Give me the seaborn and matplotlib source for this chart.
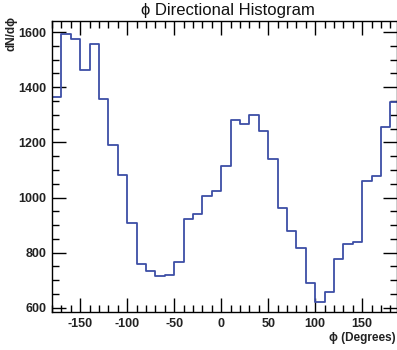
import numpy as np
import pandas as pd
import matplotlib
matplotlib.use("Agg")
import matplotlib.pyplot as plt
import seaborn as sns
from matplotlib.ticker import MultipleLocator

# ---- data ----
bin_edges = list(range(-180, 191, 10))
bin_counts = [1366, 1594, 1576, 1462, 1558, 1358, 1192, 1080, 909, 759,
              735, 717, 720, 768, 921, 940, 1006, 1023, 1116, 1282,
              1267, 1300, 1240, 1138, 962, 880, 816, 690, 621, 657,
              776, 831, 840, 1059, 1077, 1257, 1348]
bin_centers = [e + 5 for e in bin_edges[:-1]]
x_ticks = [-150, -100, -50, 0, 50, 100, 150]
y_ticks = [600, 800, 1000, 1200, 1400, 1600]

df = pd.DataFrame({"phi": bin_centers, "count": bin_counts})

sns.set_theme(style="white")
plt.rcParams['font.family'] = ['Liberation Sans', 'DejaVu Sans']
plt.rcParams['axes.unicode_minus'] = False

fig = plt.figure(figsize=(3.97, 3.5), dpi=100)
ax = fig.add_axes([52 / 397, 38 / 350, 345 / 397, 291 / 350])

sns.histplot(data=df, x="phi", weights="count", bins=bin_edges,
             element="step", fill=False, color="#3d4ea6", linewidth=1.3, ax=ax)

ax.set_xlim(-180, 187)
ax.set_ylim(585, 1640)
ax.set_xticks(x_ticks)
ax.set_yticks(y_ticks)
ax.xaxis.set_minor_locator(MultipleLocator(10))
ax.yaxis.set_minor_locator(MultipleLocator(50))
ax.tick_params(which="both", direction="in", top=True, right=True,
               bottom=True, left=True, color="black", width=1.0)
ax.tick_params(which="major", length=10, labelsize=9, pad=4)
ax.tick_params(which="minor", length=5)
for lab in ax.get_xticklabels() + ax.get_yticklabels():
    lab.set_fontweight("bold")
    lab.set_color("#222222")
for sp in ax.spines.values():
    sp.set_color("black")
    sp.set_linewidth(1.0)
    sp.set_visible(True)

ax.set_xlabel("")
ax.set_ylabel("")
fig.text(396 / 397, 1 - 338 / 350, "\u03d5 (Degrees)", ha="right", va="center",
         fontsize=8.5, fontweight="bold", color="#222222")
fig.text(11 / 397, 1 - 16 / 350, "dN/d\u03d5", rotation=90, ha="center", va="top",
         fontsize=8.5, fontweight="bold", color="#222222")
fig.text(228 / 397, 1 - 10 / 350, "\u03d5 Directional Histogram", ha="center", va="center",
         fontsize=12, color="#111111")

fig.savefig("out.png", dpi=100)
